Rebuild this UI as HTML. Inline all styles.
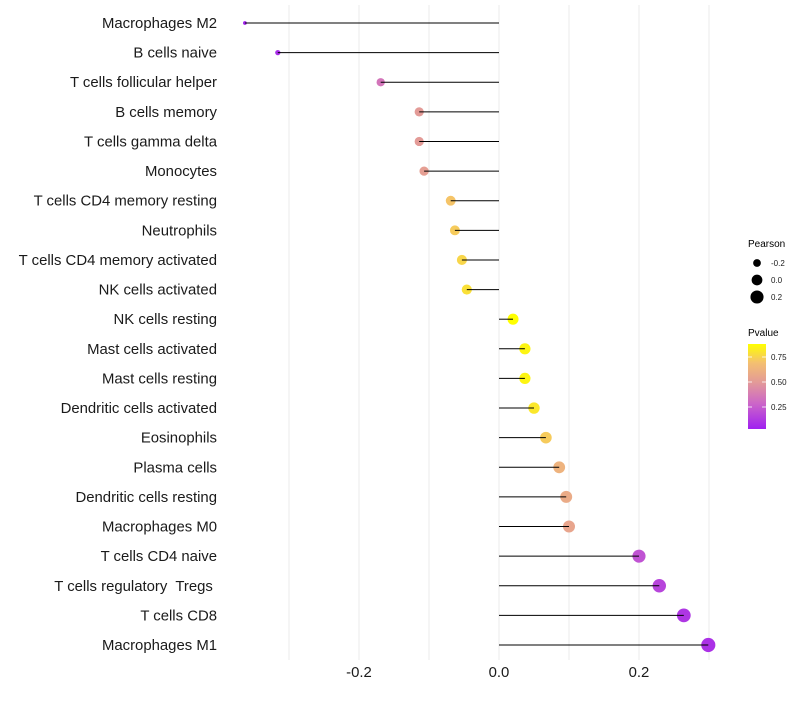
<!DOCTYPE html>
<html><head><meta charset="utf-8"><style>
body{margin:0;background:#fff;font-family:"Liberation Sans",sans-serif}
svg text{font-family:"Liberation Sans",sans-serif;white-space:pre}
</style></head><body>
<svg id="chart" width="800" height="700" xmlns="http://www.w3.org/2000/svg">
<g id="grid"></g><g id="marks"></g><g id="labels"></g><g id="xticks"></g>
<g>
<text x="748" y="247" font-size="10" fill="#000">Pearson</text>
<g id="sizeLegend"></g>
</g>
<g>
<text x="748" y="336" font-size="10" fill="#000">Pvalue</text>
<defs><linearGradient id="pg" x1="0" y1="1" x2="0" y2="0">
<stop offset="0" stop-color="#A020F0"/><stop offset="0.3" stop-color="#CC66C8"/>
<stop offset="0.55" stop-color="#E39A98"/><stop offset="0.78" stop-color="#F4C070"/>
<stop offset="1" stop-color="#FFFF00"/></linearGradient></defs>
<rect x="748" y="344" width="18" height="85" fill="url(#pg)"/>
<g id="colorTicks"></g>
</g>
</svg>
<script>
const categories=["Macrophages M2","B cells naive","T cells follicular helper","B cells memory","T cells gamma delta","Monocytes","T cells CD4 memory resting","Neutrophils","T cells CD4 memory activated","NK cells activated","NK cells resting","Mast cells activated","Mast cells resting","Dendritic cells activated","Eosinophils","Plasma cells","Dendritic cells resting","Macrophages M0","T cells CD4 naive","T cells regulatory  Tregs ","T cells CD8","Macrophages M1"];
const pearson=[-0.363,-0.316,-0.169,-0.114,-0.114,-0.107,-0.069,-0.063,-0.053,-0.046,0.020,0.037,0.037,0.050,0.067,0.086,0.096,0.100,0.200,0.229,0.264,0.299];
const pvalues=[0.05,0.09,0.35,0.50,0.50,0.52,0.70,0.72,0.75,0.78,0.93,0.84,0.84,0.80,0.72,0.62,0.58,0.55,0.22,0.17,0.12,0.10];
const xTicks=[-0.2,0.0,0.2];
const xTickLabels=["-0.2","0.0","0.2"];
const gridVals=[-0.3,-0.2,-0.1,0.0,0.1,0.2,0.3];
const sizeLegendVals=[-0.2,0.0,0.2];
const colorTickVals=[0.25,0.5,0.75];
const NS="http://www.w3.org/2000/svg";
const xs=v=>499+v*700;
const ys=i=>23+i*(622/21);
const rs=v=>Math.sqrt(Math.max(1,29+70*v));
const stops=[[0,[160,32,240]],[0.3,[204,102,200]],[0.55,[227,154,152]],[0.78,[244,192,112]],[1,[255,255,0]]];
function col(p){let t=(p-0.04)/(0.87-0.04);t=Math.max(0,Math.min(1,t));
for(let i=1;i<stops.length;i++){if(t<=stops[i][0]){const a=stops[i-1],b=stops[i];const f=(t-a[0])/(b[0]-a[0]);
return `rgb(${a[1].map((c,k)=>Math.round(c+(b[1][k]-c)*f)).join(',')})`;}}return "rgb(255,255,0)";}
function mk(t,at,parent){const e=document.createElementNS(NS,t);for(const k in at)e.setAttribute(k,at[k]);document.getElementById(parent).appendChild(e);return e;}
gridVals.forEach(v=>{const l=mk('line',{x1:xs(v),x2:xs(v),y1:5,y2:660,stroke:'#ebebeb','stroke-width':1},'grid');

});
categories.forEach((c,i)=>{
const y=ys(i);
const d=mk('circle',{cx:xs(pearson[i]),cy:y,r:rs(pearson[i]),fill:col(pvalues[i])},'marks');


const s=mk('line',{x1:xs(0),x2:xs(pearson[i]),y1:y,y2:y,stroke:'#000','stroke-width':1},'marks');


const t=mk('text',{x:217,y:y+5,'text-anchor':'end','font-size':14.9,fill:'#1a1a1a'},'labels');
t.textContent=c;

});
xTicks.forEach((v,i)=>{const t=mk('text',{x:xs(v),y:677,'text-anchor':'middle','font-size':14.9,fill:'#1a1a1a'},'xticks');
t.textContent=xTickLabels[i];

});
sizeLegendVals.forEach((v,i)=>{const y=263+i*17;
const c=mk('circle',{cx:757,cy:y,r:rs(v),fill:'#000'},'sizeLegend');


const t=mk('text',{x:771,y:y+3,'font-size':8,fill:'#1a1a1a'},'sizeLegend');
t.textContent=(v<0?'-':'')+Math.abs(v).toFixed(1);

});
colorTickVals.forEach(v=>{const y=432-v*100;
mk('line',{x1:748,x2:752,y1:y,y2:y,stroke:'#fff','stroke-width':0.8},'colorTicks');
mk('line',{x1:762,x2:766,y1:y,y2:y,stroke:'#fff','stroke-width':0.8},'colorTicks');
const t=mk('text',{x:771,y:y+3,'font-size':8,fill:'#1a1a1a'},'colorTicks');
t.textContent=v.toFixed(2);

});
</script>
</body></html>
